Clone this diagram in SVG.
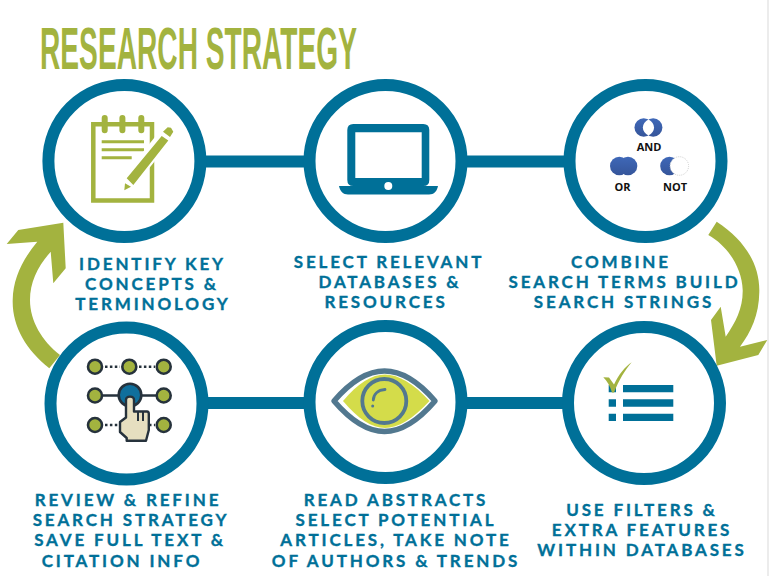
<svg xmlns="http://www.w3.org/2000/svg" width="769" height="576" viewBox="0 0 769 576">
<style>
.ring{fill:#fff;stroke:#007098;stroke-width:12}
.lbl{font-family:"Lato","Open Sans",sans-serif;font-weight:700;font-size:17px;fill:#007098;stroke:#007098;stroke-width:0.35;letter-spacing:2.85px;text-anchor:middle}
.bool{font-family:"Open Sans","Liberation Sans",sans-serif;font-weight:700;font-size:11px;fill:#111;text-anchor:middle}
.g{fill:#a3b33f}
.dot{fill:#a3b33f;stroke:#26323c;stroke-width:2.6}
.wire{stroke:#26323c;stroke-width:2.4;fill:none}
.dash{stroke-dasharray:2.5 2.4}
</style>
<defs>
<linearGradient id="bl" x1="0" y1="0" x2="0" y2="1"><stop offset="0" stop-color="#3f68b8"/><stop offset="1" stop-color="#35559a"/></linearGradient>
</defs>
<rect width="769" height="576" fill="#fff"/>
<rect x="767" width="2" height="576" fill="#ececec"/>
<text id="title" x="40" y="69" font-family="Liberation Sans Narrow,Liberation Sans,sans-serif" font-size="60" font-weight="700" fill="#a3b33f" textLength="317" lengthAdjust="spacingAndGlyphs">RESEARCH STRATEGY</text>
<g id="connectors">
<path d="M200 161.500H570M200 403H570" stroke="#007098" stroke-width="12" fill="none"/>
<path class="g" d="M716.700 221.700C745 240 760 265 759.300 292C759 315 751 332 740 346.700L767.300 340L758.300 355L716.700 365.700L711 320L720.700 306.700L725.700 336.700C736 322 743 308 742.700 290C742 268 728 246 708.300 235Z"/>
<path class="g" d="M49.300 368.300C26 350 12 326 12.700 300C13 278 23 259 37.300 241.700L6.700 244L18.300 230L63.300 222.700L65.700 268.300L53.300 283.300L50.700 251.700C38 266 30 282 30 300C30 321 42 341 60 355Z"/>
</g>
<g id="node-identify">
<circle class="ring" cx="124.400" cy="161" r="76"/>
<path d="M93.300 124.300H152V200.500H93.300Z" fill="#fff" stroke="#a3b33f" stroke-width="4.500"/>
<path d="M104.700 118V130.300M122.400 118V130.300M141.300 118V130.300" stroke="#a3b33f" stroke-linecap="round" stroke-width="6" fill="none"/>
<path d="M101.700 141.700H144M101.700 149.700H144M101.700 157.700H131.700" stroke="#a3b33f" stroke-width="3" fill="none"/>
<path d="M130 180L167 134" stroke="#fff" stroke-width="15" fill="none"/>
<path class="g" d="M126.700 178.300L161.700 136L168.300 140.500L133.300 185ZM163 131.700L167.700 127.300L171 127.800L173.300 131.700L170 137ZM125 183.300L131 186.700L124.300 190.300Z"/>
</g>
<g id="node-databases">
<circle class="ring" cx="385.500" cy="161" r="76"/>
<path fill-rule="evenodd" fill="#007098" d="M353.300 124H423.300Q429.300 124 429.300 130V180Q429.300 186 423.300 186H353.300Q347.300 186 347.300 180V130Q347.300 124 353.300 124ZM355.300 132.300V178H421.700V132.300Z"/>
<path fill="#007098" d="M339 186H438C437 191 434 194.500 429 194.500H348C343 194.500 340 191 339 186Z"/>
<circle cx="388.300" cy="186" r="4" fill="#fff"/>
</g>
<g id="node-combine">
<circle class="ring" cx="645.500" cy="161" r="76"/>
<circle cx="643.700" cy="127.500" r="9.200" fill="url(#bl)"/><circle cx="653.200" cy="127.500" r="9.200" fill="url(#bl)"/>
<path d="M648.450 119.600A9.200 9.200 0 0 1 648.450 135.400A9.200 9.200 0 0 1 648.450 119.600Z" fill="#fff" transform="translate(648.450 127.500) scale(1.25 1) translate(-648.450 -127.500)"/>
<text class="bool" x="649" y="151">AND</text>
<circle cx="619.300" cy="166" r="9.300" fill="url(#bl)"/><circle cx="628" cy="166" r="9.300" fill="url(#bl)"/>
<text class="bool" x="622.500" y="191">OR</text>
<circle cx="669.500" cy="166" r="9.300" fill="url(#bl)"/>
<circle cx="679.300" cy="166" r="9.300" fill="#fff" stroke="#bbb" stroke-width="0.7" stroke-dasharray="1 1"/>
<text class="bool" x="675" y="191">NOT</text>
</g>
<g id="node-filters">
<circle class="ring" cx="644" cy="403" r="76"/>
<path fill="#007098" d="M608.700 385H616V392.300H608.700ZM608.700 399.300H616V406.700H608.700ZM608.700 413.700H616V421H608.700ZM623 385H673.300V392.300H623ZM623 399.300H673.300V406.700H623ZM623 413.700H673.300V421H623Z"/>
<path class="g" d="M603.300 377.300L609 377.500L614 384.500C619 374 625 367 631.700 362.300C625 370 619 380 614 392.500L612 392.500C610 386 607 381 603.300 377.300Z"/>
</g>
<g id="node-abstracts">
<circle class="ring" cx="385.500" cy="402" r="76"/>
<path d="M343 401C358 383 372 374.500 385 374.500C398 374.500 413 383 429.500 401C413 419 398 428 385 428C372 428 358 419 343 401Z" fill="#d4dc4a"/>
<path d="M334 401C352 380 369 371 384.500 371C400 371 417 380 435 401C417 422 400 431.500 384.500 431.500C369 431.500 352 422 334 401Z" fill="none" stroke="#52788f" stroke-width="5.500" stroke-linejoin="round"/>
<circle cx="384.300" cy="401" r="22" fill="none" stroke="#52788f" stroke-width="3.800"/>
<path d="M385 389.500C378 390 373.500 394 373.300 400" fill="none" stroke="#52788f" stroke-width="2.800" stroke-linecap="round"/>
<circle cx="372.700" cy="406" r="1.500" fill="#52788f"/>
</g>
<g id="node-review">
<circle class="ring" cx="126.500" cy="403.500" r="76"/>
<path class="wire dash" d="M105 366.700H120M139 366.700H155M105 425H120M149 425H155"/>
<path class="wire" d="M103 395.500H156"/>
<circle class="dot" cx="95" cy="366.700" r="7"/><circle class="dot" cx="129.300" cy="366.700" r="7"/><circle class="dot" cx="163.700" cy="366.700" r="7"/>
<circle class="dot" cx="95" cy="395.500" r="7"/><circle class="dot" cx="163.700" cy="395.500" r="7"/>
<circle class="dot" cx="95" cy="425" r="7"/><circle class="dot" cx="163.700" cy="425" r="7"/>
<circle cx="130" cy="395" r="11.300" fill="#0f6f9c" stroke="#26323c" stroke-width="2.600"/>
<path d="M126 400C126 395.500 134 395.500 134 400V411.500H147C148.500 411.500 148.800 412.500 148.800 414V430L146 440.800H126.700L126.700 438L120 432V422L126 417.500Z" fill="#e6dfc0" stroke="#26323c" stroke-width="2.400" stroke-linejoin="round"/>
<path d="M138 411V421M143 411V421" stroke="#26323c" stroke-width="2"/>
</g>
<g id="labels">
<text class="lbl"><tspan x="152.500" y="270">IDENTIFY KEY</tspan><tspan x="152" y="290">CONCEPTS &amp;</tspan><tspan x="153" y="310">TERMINOLOGY</tspan></text>
<text class="lbl"><tspan x="389" y="268">SELECT RELEVANT</tspan><tspan x="390" y="288">DATABASES &amp;</tspan><tspan x="386" y="308">RESOURCES</tspan></text>
<text class="lbl"><tspan x="621" y="268">COMBINE</tspan><tspan x="624.500" y="288">SEARCH TERMS BUILD</tspan><tspan x="624" y="308">SEARCH STRINGS</tspan></text>
<text class="lbl"><tspan x="128" y="506">REVIEW &amp; REFINE</tspan><tspan x="131" y="526">SEARCH STRATEGY</tspan><tspan x="130" y="546">SAVE FULL TEXT &amp;</tspan><tspan x="122" y="567">CITATION INFO</tspan></text>
<text class="lbl"><tspan x="396" y="506">READ ABSTRACTS</tspan><tspan x="396" y="526">SELECT POTENTIAL</tspan><tspan x="396" y="546">ARTICLES, TAKE NOTE</tspan><tspan x="396" y="567">OF AUTHORS &amp; TRENDS</tspan></text>
<text class="lbl"><tspan x="642" y="516">USE FILTERS &amp;</tspan><tspan x="642" y="536">EXTRA FEATURES</tspan><tspan x="642" y="556">WITHIN DATABASES</tspan></text>
</g>
</svg>
